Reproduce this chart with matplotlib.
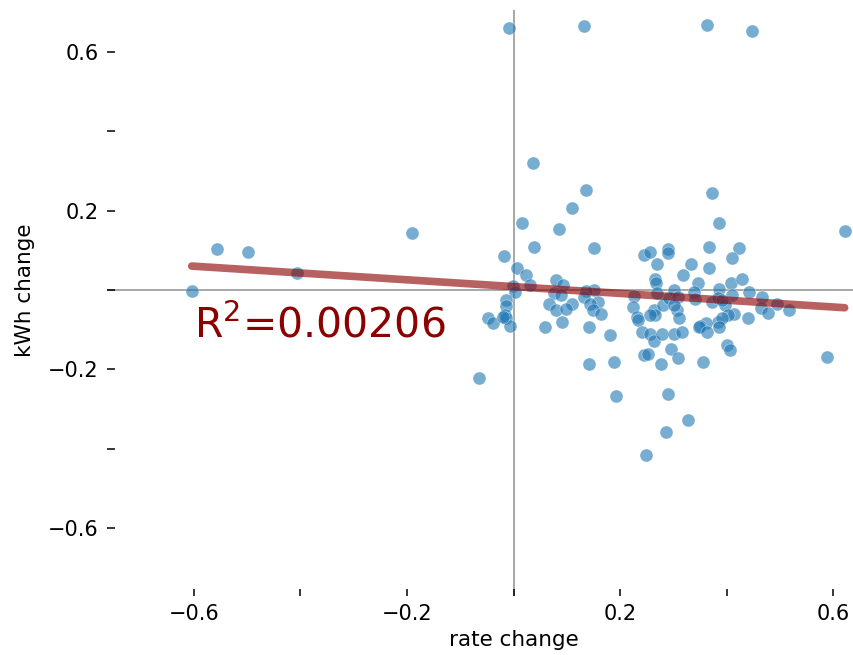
import numpy as np
import matplotlib
matplotlib.use("Agg")
import matplotlib.pyplot as plt

# ---- data ----
rate_change = [
    -0.008, 0.132, 0.362, 0.448, 0.036, 0.136, 0.110, 0.373, 0.385, 0.621,
    0.015, 0.085, 0.039, 0.151, -0.018, 0.244, 0.255, 0.290, 0.290, 0.367,
    0.422, 0.268, 0.332, 0.410, 0.367, 0.318, 0.007, 0.023, 0.030, -0.001,
    0.002, 0.080, 0.092, 0.076, 0.089, 0.150, 0.135, 0.131, 0.159, 0.143,
    0.067, 0.109, 0.079, 0.099, 0.149, 0.163, -0.014, -0.014, -0.016, -0.014,
    -0.048, -0.038, -0.007, 0.058, 0.091, 0.141, 0.225, 0.223, 0.232, 0.265,
    0.267, 0.268, 0.263, 0.266, 0.256, 0.281, 0.291, 0.300, 0.309, 0.306,
    0.300, 0.311, 0.345, 0.339, 0.341, 0.372, 0.386, 0.383, 0.407, 0.410,
    0.397, 0.428, 0.442, 0.465, 0.464, 0.477, 0.494, 0.516, 0.414, 0.402,
    0.439, 0.383, 0.391, 0.360, 0.349, -0.065, 0.180, 0.234, 0.241, 0.255,
    0.263, 0.278, 0.300, 0.315, 0.348, 0.363, 0.386, 0.400, 0.405, 0.244,
    0.252, 0.295, 0.309, 0.277, 0.356, 0.142, 0.189, 0.587, 0.192, 0.289,
    0.327, 0.286, 0.249, -0.604, -0.557, -0.499, -0.407, -0.190, -0.020, 0.391,
]
kwh_change = [
    0.660, 0.666, 0.668, 0.653, 0.320, 0.253, 0.207, 0.246, 0.170, 0.148,
    0.168, 0.154, 0.109, 0.106, 0.087, 0.088, 0.095, 0.103, 0.093, 0.109,
    0.105, 0.066, 0.067, 0.081, 0.056, 0.038, 0.055, 0.038, 0.013, 0.010,
    -0.004, 0.025, 0.013, -0.008, -0.013, 0.000, -0.003, -0.017, -0.030, -0.036,
    -0.036, -0.036, -0.050, -0.047, -0.050, -0.061, -0.025, -0.040, -0.063, -0.071,
    -0.070, -0.082, -0.090, -0.093, -0.080, -0.093, -0.014, -0.042, -0.069, 0.029,
    0.018, -0.007, -0.050, -0.063, -0.063, -0.038, -0.021, 0.000, -0.017, -0.050,
    -0.038, -0.070, 0.017, -0.006, -0.023, -0.031, 0.002, -0.019, 0.017, -0.013,
    -0.038, 0.028, -0.005, -0.017, -0.045, -0.057, -0.034, -0.049, -0.059, -0.063,
    -0.071, -0.080, -0.071, -0.084, -0.091, -0.221, -0.113, -0.076, -0.105, -0.111,
    -0.128, -0.111, -0.111, -0.105, -0.094, -0.105, -0.094, -0.139, -0.151, -0.164,
    -0.160, -0.149, -0.171, -0.186, -0.181, -0.187, -0.181, -0.168, -0.267, -0.262,
    -0.327, -0.358, -0.415, -0.003, 0.103, 0.095, 0.042, 0.144, -0.068, -0.025,
]
r2_text = r"R$^2$=0.00206"
tick_values = [-0.6, -0.4, -0.2, 0.0, 0.2, 0.4, 0.6]
tick_labels = ["\u22120.6", "", "\u22120.2", "", "0.2", "", "0.6"]

x = np.array(rate_change)
y = np.array(kwh_change)

fig = plt.figure(figsize=(8.54, 6.55), dpi=100)
ax = fig.add_axes([107 / 854, 59 / 655, 747 / 854, 586 / 655])

ax.axhline(0, color="#a0a0a0", lw=1.3, zorder=1)
ax.axvline(0, color="#a0a0a0", lw=1.3, zorder=1)

ax.scatter(x, y, s=88, color="#1f77b4", alpha=0.6, edgecolors="white",
           linewidths=0.4, zorder=2)

slope, intercept = np.polyfit(x, y, 1)
xs = np.array([x.min(), x.max()])
ax.plot(xs, slope * xs + intercept, color="darkred", alpha=0.62, lw=5.5,
        solid_capstyle="round", zorder=3)

ax.text(-0.6, -0.12, r2_text, color="darkred", fontsize=29.5, zorder=4)

ax.set_xlim(-0.763, 0.6385)
ax.set_ylim(-0.771, 0.706)
ax.set_xticks(tick_values)
ax.set_xticklabels(tick_labels)
ax.set_yticks(tick_values)
ax.set_yticklabels(tick_labels)
ax.tick_params(direction="in", length=5.4, width=1.1, labelsize=15, pad=6)

for sp in ax.spines.values():
    sp.set_visible(False)

ax.set_xlabel("rate change", fontsize=15.5)
ax.set_ylabel("kWh change", fontsize=15.5)
ax.xaxis.set_label_coords((513.5 - 107) / 747, -0.058)
ax.yaxis.set_label_coords(-0.097, (596 - 290) / 586)

fig.savefig("out.png", dpi=100)
